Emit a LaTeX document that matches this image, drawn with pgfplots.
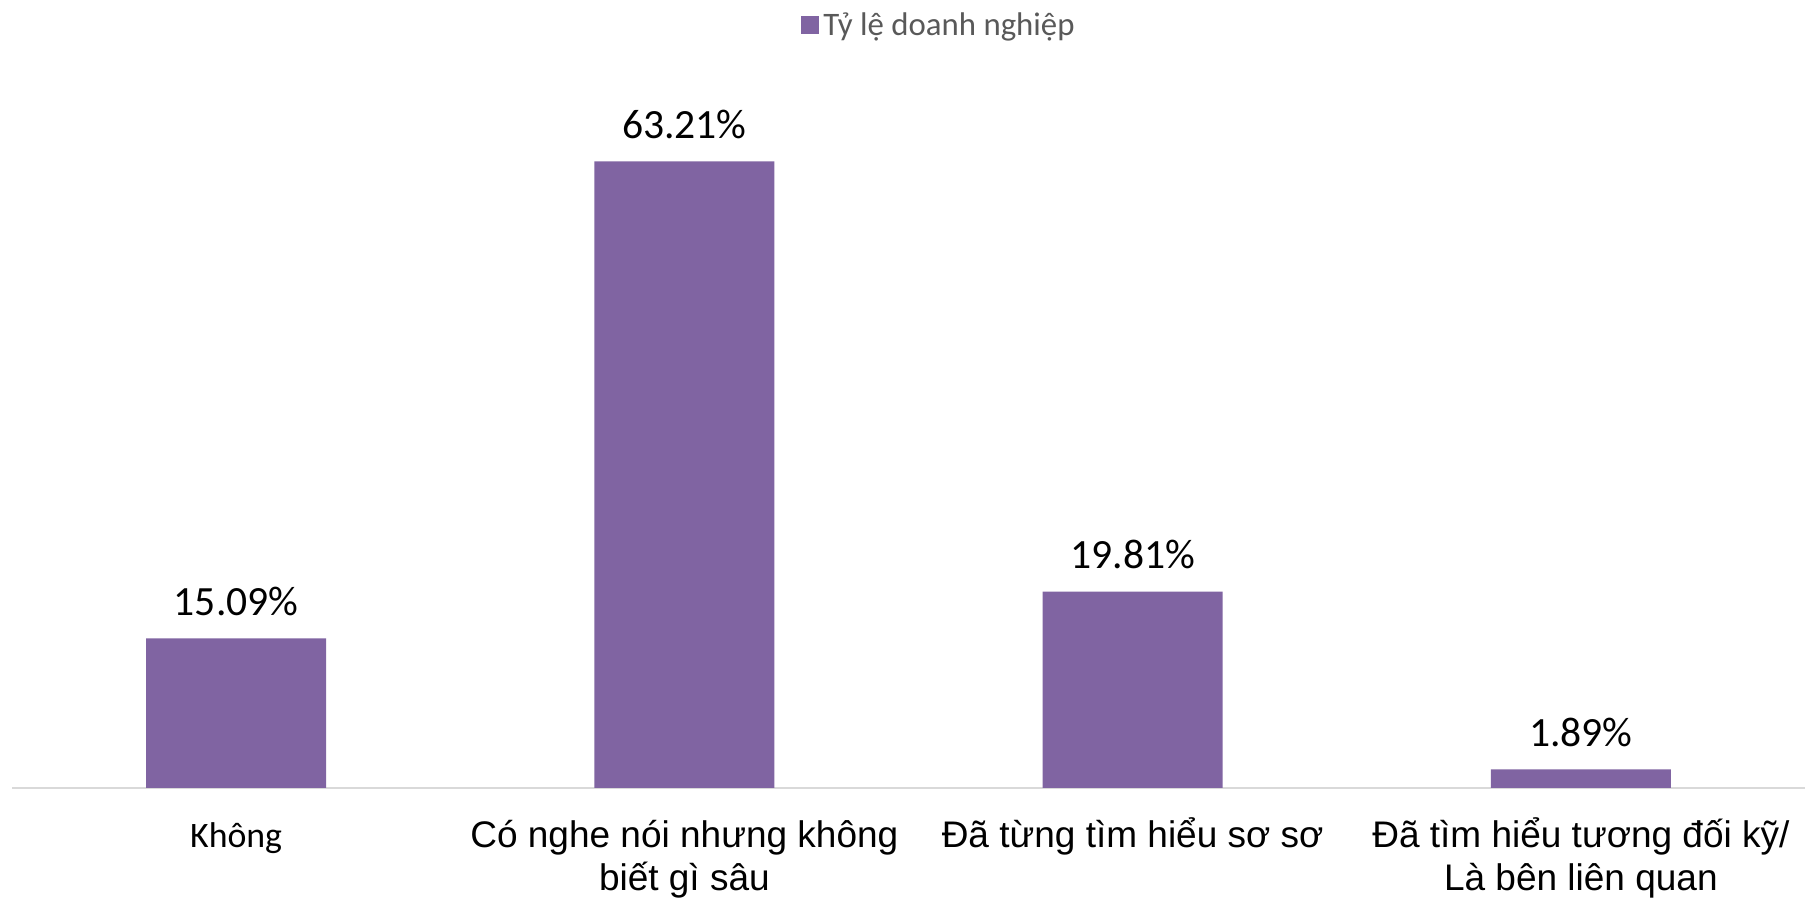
\documentclass[border=0pt]{standalone}
\usepackage{pgfplots}
\pgfplotsset{compat=1.18}
\usepackage{fontspec}
\setmainfont{Carlito}
\newfontfamily\arial{Liberation Sans}
\definecolor{barpurple}{HTML}{8064A2}
\definecolor{axisgray}{HTML}{D9D9D9}
\definecolor{legendgray}{HTML}{595959}
\newcommand{\twoline}[2]{\begin{tabular}[t]{@{}c@{}}#1\\#2\end{tabular}}
\begin{document}
\begin{tikzpicture}
\begin{axis}[
  at={(0,0)}, anchor=south west,
  scale only axis, width=896.5pt, height=347pt,
  xmin=-0.5, xmax=3.5, ymin=0, ymax=70,
  ybar, bar width=90pt,
  axis x line*=bottom, axis y line=none,
  x axis line style={draw=axisgray, line width=1pt},
  ytick=\empty, xtick={0,1,2,3}, major tick length=0pt,
  xticklabels={{\rmfamily\fontsize{17.9}{21.5}\selectfont Không},{\twoline{Có nghe nói nhưng không}{biết gì sâu}},{Đã từng tìm hiểu sơ sơ},{\twoline{Đã tìm hiểu tương đối kỹ/}{Là bên liên quan}}},
  xticklabel style={font=\arial\fontsize{18.5}{21.5}\selectfont, anchor=base, yshift=-30pt, inner sep=0pt},
  point meta=explicit symbolic,
  nodes near coords={\pgfplotspointmeta\%},
  every node near coord/.append style={font=\fontsize{20.8}{25}\selectfont, anchor=base, yshift=11.5pt, inner sep=0pt},
  legend style={at={(0.5176,1.0987)}, anchor=center, draw=none, fill=none, font=\fontsize{16.4}{19}\selectfont\color{legendgray}, inner sep=0pt},
  legend image code/.code={\fill[barpurple] (0pt,-4.5pt) rectangle (9pt,4.5pt);},
]
\addplot[fill=barpurple, draw=none] table[x=x, y=y, meta=label] {
x y label
0 15.09 15.09
1 63.21 63.21
2 19.81 19.81
3 1.89 1.89
};
\addlegendentry{Tỷ lệ doanh nghiệp}
\end{axis}
\pgfresetboundingbox
\path[use as bounding box] (-6pt,-55.5pt) rectangle (896.5pt,394pt);
\end{tikzpicture}
\end{document}
